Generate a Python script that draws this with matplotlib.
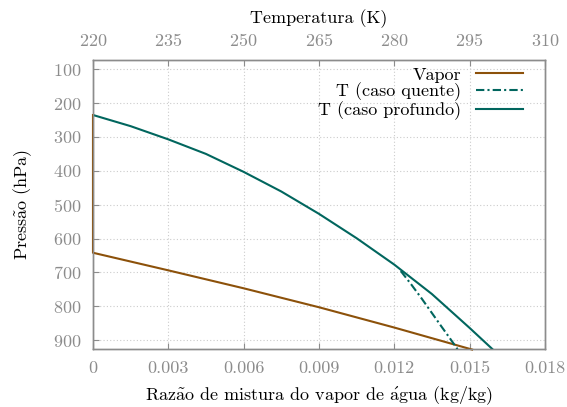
import numpy as np
import matplotlib
matplotlib.use("Agg")
import matplotlib.pyplot as plt

# Data ############################################################################
vapor_q = [0.0, 0.0, 0.003, 0.006, 0.009, 0.012, 0.0151]
vapor_p = [235, 642, 694, 747, 803, 863, 928]

deep_T = [220.0, 227.5, 235.0, 242.5, 250.0, 257.5, 265.0, 272.5, 280.0, 287.5, 295.0, 299.5]
deep_p = [235, 268, 307, 350, 403, 461, 527, 599, 677, 764, 864, 926]

hot_T = [281.3, 283.4, 285.4, 287.4, 289.4, 291.0, 292.6]
hot_p = [696, 736, 776, 818, 860, 893, 927]

q_ticks = [0, 0.003, 0.006, 0.009, 0.012, 0.015, 0.018]
q_labels = ["0", "0.003", "0.006", "0.009", "0.012", "0.015", "0.018"]
T_ticks = [220, 235, 250, 265, 280, 295, 310]
p_ticks = [100, 200, 300, 400, 500, 600, 700, 800, 900]

# Style ##########################################################################
plt.rcParams['font.family'] = ['cmr10', 'DejaVu Serif']
plt.rcParams['mathtext.fontset'] = 'cm'
plt.rcParams['axes.formatter.use_mathtext'] = True

brown = "#8c510a"
teal = "#01665e"
gray = "#8c8c8c"
fs = 13

fig = plt.figure(figsize=(5.67, 4.07), dpi=100)
ax = fig.add_axes([0.164, 0.142, 0.797, 0.711])
ax2 = ax.twiny()

l1, = ax.plot(vapor_q, vapor_p, color=brown, lw=1.5, clip_on=False, zorder=3)
l2, = ax2.plot(hot_T, hot_p, color=teal, lw=1.5, linestyle=(0, (4, 1.5, 1, 1.5)))
l3, = ax2.plot(deep_T, deep_p, color=teal, lw=1.5)

ax.set_xlim(0, 0.018)
ax2.set_xlim(220, 310)
ax.set_ylim(927, 72)

ax.set_xticks(q_ticks)
ax.set_xticklabels(q_labels)
ax.set_yticks(p_ticks)
ax2.set_xticks(T_ticks)

for a in (ax, ax2):
    for s in a.spines.values():
        s.set_color(gray)
        s.set_linewidth(1.0)
    a.tick_params(direction="in", length=4, color=gray, labelcolor=gray, labelsize=fs, pad=8)
ax.tick_params(axis="y", right=False)
ax.grid(True, linestyle=(0, (1, 2)), color="#cccccc", lw=0.8)

ax.set_xlabel(r"Raz$\tilde{\rm a}$o de mistura do vapor de $\acute{\rm a}$gua (kg/kg)", fontsize=fs, labelpad=6)
ax.set_ylabel(r"Press$\tilde{\rm a}$o (hPa)", fontsize=fs, labelpad=14)
ax2.set_xlabel("Temperatura (K)", fontsize=fs, labelpad=6)

leg = ax2.legend([l1, l2, l3], ["Vapor", "T (caso quente)", "T (caso profundo)"],
                 loc="upper right", bbox_to_anchor=(0.967, 1.0), frameon=False,
                 markerfirst=False, fontsize=fs, handlelength=2.6, labelspacing=0.0,
                 borderaxespad=0.0, handletextpad=0.8)
for t in leg.get_texts():
    t.set_ha("right")

fig.savefig("out.png", dpi=100)
